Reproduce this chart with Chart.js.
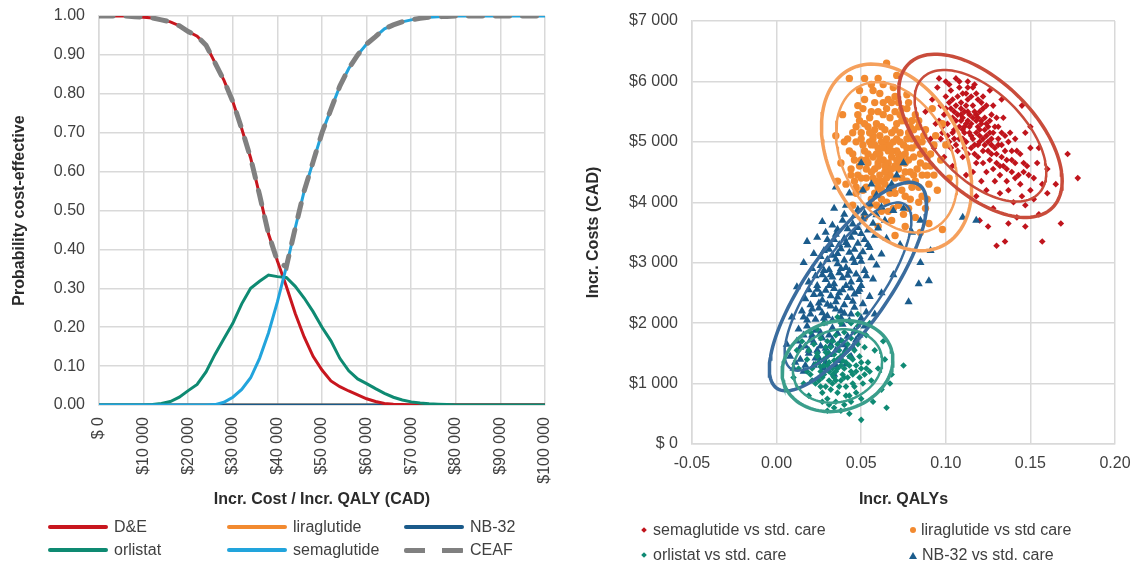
<!DOCTYPE html>
<html>
<head>
<meta charset="utf-8">
<title>CEAC and cost-effectiveness plane</title>
<script src="https://cdn.jsdelivr.net/npm/chart.js@4.4.1/dist/chart.umd.min.js"></script>
<style>
  html, body { margin: 0; padding: 0; background: #fff; }
  body { position: relative; width: 1134px; height: 564px; overflow: hidden;
         font-family: "Liberation Sans", Arial, sans-serif; color: #404040; }
  .box { position: absolute; top: 0; height: 520px; }
  #ceacBox { left: 0; width: 564px; }
  #planeBox { left: 580px; width: 554px; }
  .item { position: absolute; height: 20px; display: flex; align-items: center;
          font-size: 16px; white-space: nowrap; }
  .swatch { width: 60px; height: 4px; margin-right: 6px; border-radius: 2px; }
</style>
</head>
<body>
<div class="box" id="ceacBox"><canvas id="ceac"></canvas></div>
<div class="box" id="planeBox"><canvas id="plane"></canvas></div>
<div id="ceacLegend"></div>
<div id="planeLegend"></div>
<script>
// willingness-to-pay thresholds (CAD / QALY)
const wtp = [0, 2000, 4000, 6000, 8000, 10000, 12000, 14000, 16000, 18000,
  20000, 22000, 24000, 26000, 28000, 30000, 32000, 34000, 36000, 38000,
  40000, 42000, 44000, 46000, 48000, 50000, 52000, 54000, 56000, 58000,
  60000, 62000, 64000, 66000, 68000, 70000, 72000, 74000, 76000, 78000,
  80000, 82000, 84000, 86000, 88000, 90000, 92000, 94000, 96000, 98000, 100000];

const probDE = [1, 1, 1, 1, 0.998, 0.997, 0.995, 0.99, 0.985, 0.975,
  0.96, 0.948, 0.925, 0.88, 0.835, 0.78, 0.71, 0.635, 0.54, 0.44,
  0.37, 0.305, 0.235, 0.175, 0.125, 0.09, 0.062, 0.047, 0.036, 0.026,
  0.016, 0.009, 0.004, 0.002, 0.001, 0, 0, 0, 0, 0,
  0, 0, 0, 0, 0, 0, 0, 0, 0, 0, 0];
const probLira = [0, 0, 0, 0, 0, 0, 0, 0, 0, 0, 0, 0, 0, 0, 0, 0, 0, 0, 0, 0,
  0, 0, 0, 0, 0, 0, 0, 0, 0, 0, 0, 0, 0, 0, 0, 0, 0, 0, 0, 0,
  0, 0, 0, 0, 0, 0, 0, 0, 0, 0, 0];
const probNB32 = [0, 0, 0, 0, 0, 0, 0, 0, 0, 0, 0, 0, 0, 0, 0, 0, 0, 0, 0, 0,
  0, 0, 0, 0, 0, 0, 0, 0, 0, 0, 0, 0, 0, 0, 0, 0, 0, 0, 0, 0,
  0, 0, 0, 0, 0, 0, 0, 0, 0, 0, 0];
const probOrlistat = [0, 0, 0, 0, 0, 0, 0.001, 0.004, 0.009, 0.02,
  0.037, 0.053, 0.085, 0.13, 0.17, 0.21, 0.26, 0.3, 0.318, 0.334,
  0.33, 0.328, 0.305, 0.275, 0.24, 0.2, 0.165, 0.12, 0.088, 0.067,
  0.055, 0.042, 0.03, 0.02, 0.013, 0.008, 0.005, 0.003, 0.002, 0.001,
  0, 0, 0, 0, 0, 0, 0, 0, 0, 0, 0];
const probSema = [0, 0, 0, 0, 0, 0, 0, 0, 0, 0,
  0, 0, 0, 0.001, 0.007, 0.02, 0.04, 0.07, 0.12, 0.185,
  0.265, 0.355, 0.455, 0.55, 0.625, 0.7, 0.76, 0.82, 0.865, 0.9,
  0.928, 0.947, 0.967, 0.977, 0.985, 0.99, 0.994, 0.997, 0.998, 0.999,
  1, 1, 1, 1, 1, 1, 1, 1, 1, 1, 1];
const probCEAF = [1, 1, 1, 1, 0.998, 0.997, 0.995, 0.99, 0.985, 0.975,
  0.96, 0.948, 0.925, 0.88, 0.835, 0.78, 0.71, 0.635, 0.54, 0.44,
  0.37, 0.355, 0.455, 0.55, 0.625, 0.7, 0.76, 0.82, 0.865, 0.9,
  0.928, 0.947, 0.967, 0.977, 0.985, 0.99, 0.994, 0.997, 0.998, 0.999,
  1, 1, 1, 1, 1, 1, 1, 1, 1, 1, 1];

const ceacNames = ["D&E", "liraglutide", "NB-32", "orlistat", "semaglutide", "CEAF"];
const ceacColours = ["#C8161E", "#F28A30", "#1A5A8A", "#0E8A72", "#22A4DC", "#808080"];
const ceacOrder = [3, 5, 4, 2, 1, 0];

// PSA scatter (incr. QALYs, incr. costs CAD)
const semaPoints = [
  [0.110,5400],[0.115,5300],[0.105,5500],[0.120,5200],[0.112,5600],[0.118,5450],[0.108,5250],[0.124,5100],[0.102,5650],[0.116,5050],
  [0.121,5350],[0.111,5150],[0.127,4950],[0.106,5350],[0.113,5700],[0.119,4950],[0.099,5450],[0.125,5250],[0.109,5550],[0.130,4800],
  [0.117,5500],[0.104,5150],[0.122,4850],[0.114,5450],[0.128,5150],[0.101,5300],[0.133,4950],[0.107,5750],[0.120,5000],[0.112,5000],
  [0.126,4700],[0.118,5150],[0.103,5850],[0.131,5050],[0.115,4900],[0.108,5050],[0.123,5400],[0.136,4700],[0.110,5800],[0.097,5600],
  [0.107,5450],[0.113,5350],[0.119,5250],[0.111,5250],[0.116,5600],[0.122,5550],[0.104,5400],[0.109,5650],[0.114,5150],[0.120,5100],
  [0.125,5000],[0.129,4900],[0.123,4950],[0.117,4800],[0.111,4900],[0.106,4950],[0.101,5100],[0.098,5250],[0.103,5550],[0.108,5900],
  [0.115,5750],[0.121,5650],[0.127,5450],[0.131,5250],[0.135,5100],[0.139,4850],[0.134,4600],[0.128,4550],[0.122,4650],[0.116,4500],
  [0.113,5500],[0.118,5350],[0.124,5300],[0.110,5050],[0.105,5200],[0.100,5750],[0.096,5350],[0.130,5400],[0.126,5150],[0.119,5700],
  [0.112,5800],[0.117,5950],[0.102,5950],[0.133,4750],[0.141,4650],[0.143,4450],[0.136,4350],[0.124,4200],[0.150,4200],[0.145,4100],
  [0.100,5550],[0.104,5700],[0.109,5350],[0.114,5250],[0.119,5400],[0.123,5200],[0.127,5050],[0.131,4950],[0.135,4850],[0.139,4700],
  [0.106,5600],[0.111,5500],[0.116,5400],[0.121,5300],[0.126,5350],[0.129,5250],[0.124,5600],[0.118,5800],[0.113,5900],[0.108,6000],
  [0.098,5150],[0.102,5000],[0.107,4850],[0.113,4800],[0.119,4750],[0.125,4850],[0.130,4650],[0.136,4550],[0.141,4400],[0.146,4500],
  [0.133,5150],[0.137,5000],[0.141,5050],[0.144,4800],[0.148,4600],[0.152,4400],[0.154,4650],[0.157,4300],[0.150,4900],[0.147,5150],
  [0.120,5500],[0.115,5100],[0.110,5200],[0.105,5050],[0.122,5050],[0.127,4800],[0.132,4600],[0.117,4950],[0.112,5300],[0.109,5450],
  [0.095,5900],[0.100,6000],[0.106,6050],[0.094,5300],[0.097,5050],[0.103,4900],[0.110,4750],[0.118,4650],[0.124,4500],[0.132,4450],
  [0.139,4500],[0.142,4850],[0.138,5150],[0.134,5400],[0.128,5600],[0.122,5750],[0.116,5900],[0.129,4350],[0.137,4200],[0.144,4300],
  [0.146,4650],[0.140,4000],[0.132,4150],[0.149,4450],[0.126,5850],[0.113,6000],[0.092,5700],[0.099,4750],[0.091,5050],[0.121,4350],
  [0.172,4800],[0.178,4400],[0.168,3650],[0.157,3350],[0.130,3280],[0.135,3350],[0.147,3600],[0.125,3600],[0.152,4050],[0.160,4550],
  [0.155,4900],[0.150,5250],[0.145,5600],[0.112,4450],[0.118,4100],[0.128,3900],[0.142,3750],[0.160,4150],[0.088,5500],[0.093,4900],
  [0.104,4600],[0.096,6050],[0.133,5700],[0.165,4300],[0.155,3800],[0.147,3950],[0.120,3700],[0.137,3650]
];
const liraPoints = [
  [0.066,4850],[0.060,4900],[0.072,4800],[0.063,4700],[0.069,5000],[0.057,4750],[0.075,4950],[0.061,5100],[0.070,4600],[0.064,5200],
  [0.055,5000],[0.078,4700],[0.067,4450],[0.058,4550],[0.073,5150],[0.052,4850],[0.080,4900],[0.062,4350],[0.071,5300],[0.059,5300],
  [0.076,4500],[0.054,4650],[0.068,4750],[0.065,4950],[0.074,4400],[0.061,4800],[0.083,5050],[0.050,5150],[0.069,4250],[0.057,5050],
  [0.079,5250],[0.063,5450],[0.085,4650],[0.053,4400],[0.072,4550],[0.060,4600],[0.067,5400],[0.077,5050],[0.056,4950],[0.064,4500],
  [0.081,4450],[0.071,4850],[0.058,5200],[0.066,4650],[0.074,5350],[0.049,4600],[0.087,4850],[0.062,5000],[0.070,4150],[0.055,5400],
  [0.063,4900],[0.068,4850],[0.059,4800],[0.065,5050],[0.071,5050],[0.076,4800],[0.060,4650],[0.066,4550],[0.073,4650],[0.062,5250],
  [0.068,5150],[0.057,5100],[0.054,4800],[0.051,4950],[0.078,5150],[0.081,4750],[0.083,4550],[0.077,4350],[0.070,4400],[0.064,4300],
  [0.057,4400],[0.053,4550],[0.050,4700],[0.047,5000],[0.049,5350],[0.054,5250],[0.060,5500],[0.065,5550],[0.070,5500],[0.076,5350],
  [0.081,5200],[0.086,5000],[0.089,4750],[0.086,4450],[0.080,4250],[0.074,4200],[0.067,4150],[0.060,4250],[0.053,4250],[0.061,4450],
  [0.056,5500],[0.072,5650],[0.084,5350],[0.078,3900],[0.066,3850],[0.059,3950],[0.069,5900],[0.063,5950],[0.089,4050],[0.093,4450],
  [0.046,4700],[0.048,4450],[0.050,5050],[0.052,5300],[0.055,5150],[0.058,4950],[0.061,4700],[0.064,4600],[0.067,4950],[0.070,5200],
  [0.073,5000],[0.076,4650],[0.079,4500],[0.082,4350],[0.085,4800],[0.087,5100],[0.084,5250],[0.080,5050],[0.077,4900],[0.074,4750],
  [0.071,4700],[0.068,4550],[0.065,4400],[0.062,4200],[0.059,4350],[0.056,4500],[0.053,4700],[0.050,4400],[0.047,4250],[0.044,4450],
  [0.043,4850],[0.045,5150],[0.048,5450],[0.052,5700],[0.057,5850],[0.063,5650],[0.068,5650],[0.073,5450],[0.077,5550],[0.080,5350],
  [0.083,4950],[0.088,4600],[0.091,4800],[0.089,4450],[0.084,4000],[0.076,4100],[0.069,3900],[0.062,4050],[0.056,4050],[0.094,5100],
  [0.045,4800],[0.047,5250],[0.046,4350],[0.051,5550],[0.058,5650],[0.066,5700],[0.074,5550],[0.082,5450],[0.088,5200],[0.091,4600],
  [0.090,4300],[0.086,4100],[0.079,4050],[0.072,3950],[0.065,4000],[0.058,4150],[0.051,4200],[0.044,4550],[0.042,5050],[0.048,5600],
  [0.061,5800],[0.070,5750],[0.078,5650],[0.084,4250],[0.093,4950],[0.062,3850],[0.055,3950],[0.075,3800],[0.068,3700],[0.082,3750],
  [0.065,6300],[0.052,6050],[0.043,6050],[0.060,6050],[0.077,5780],[0.035,5100],[0.040,5000],[0.038,4650],[0.041,4300],[0.047,4150],
  [0.098,3550],[0.088,3900],[0.097,4700],[0.095,4200],[0.100,4950],[0.076,3600],[0.070,3450],[0.060,3600],[0.085,3500],[0.049,5850],
  [0.056,5950],[0.071,6100],[0.092,5550],[0.098,5300],[0.039,5450],[0.036,4350],[0.045,3950],[0.052,3750],[0.090,3650],[0.102,4400]
];
const orliPoints = [
  [0.030,1300],[0.036,1250],[0.026,1200],[0.041,1350],[0.033,1150],[0.038,1450],[0.028,1400],[0.044,1200],[0.023,1320],[0.035,1050],
  [0.031,1500],[0.040,1100],[0.047,1300],[0.025,1050],[0.034,1380],[0.042,1550],[0.020,1150],[0.037,950],[0.029,1600],[0.049,1450],
  [0.045,1000],[0.032,900],[0.052,1150],[0.018,1400],[0.039,1700],[0.027,850],[0.054,1350],[0.043,800],[0.022,1650],[0.048,1650],
  [0.033,1250],[0.038,1300],[0.028,1300],[0.031,1200],[0.036,1400],[0.040,1250],[0.025,1350],[0.043,1450],[0.030,1450],[0.034,1100],
  [0.039,1150],[0.027,1100],[0.045,1150],[0.032,1600],[0.037,1550],[0.042,1650],[0.024,1500],[0.021,1250],[0.046,1550],[0.050,1250],
  [0.041,950],[0.036,850],[0.029,950],[0.023,1000],[0.051,1000],[0.047,850],[0.033,1700],[0.026,1750],[0.040,1850],[0.052,1600],
  [0.026,1280],[0.031,1350],[0.035,1200],[0.039,1380],[0.043,1300],[0.047,1200],[0.028,1150],[0.033,1000],[0.038,1050],[0.042,1100],
  [0.024,1450],[0.029,1520],[0.034,1480],[0.040,1500],[0.045,1400],[0.050,1350],[0.021,1050],[0.026,950],[0.031,1050],[0.046,950],
  [0.049,1100],[0.053,1250],[0.036,1650],[0.030,1700],[0.044,1750],[0.019,1550],[0.041,800],[0.035,700],[0.027,700],[0.048,1950],
  [0.018,1200],[0.055,1200],[0.044,700],[0.031,650],[0.038,2000],[0.020,1850],
  [0.016,1000],[0.035,1800],[0.056,1050],[0.030,750],[0.058,1550],[0.013,1250],[0.046,1850],[0.024,1900],[0.040,650],[0.060,1250],
  [0.050,750],[0.019,800],[0.062,900],[0.053,1800],[0.015,1700],[0.034,600],[0.044,2000],[0.028,2000],[0.057,700],[0.064,1400],
  [0.050,400],[0.065,600],[0.067,1000],[0.075,1300],[0.043,500],[0.038,550],[0.030,550],[0.063,1700],[0.012,1550],[0.010,1100],
  [0.055,2000],[0.048,2150],[0.036,2100],[0.068,1150]
];
const nb32Points = [
  [0.010,1250],[0.016,1200],[0.022,1300],[0.028,1250],[0.034,1150],
  [0.008,1450],[0.014,1400],[0.019,1500],[0.025,1420],[0.031,1480],[0.037,1380],[0.044,1450],
  [0.011,1350],[0.017,1300],[0.023,1420],[0.029,1350],[0.035,1300],[0.041,1320],
  [0.019,1550],[0.024,1550],[0.029,1580],[0.035,1550],[0.041,1560],
  [0.014,1600],[0.020,1720],[0.026,1620],[0.033,1720],[0.040,1640],[0.047,1720],
  [0.012,1700],[0.017,1620],[0.022,1680],[0.027,1750],[0.032,1640],[0.038,1700],[0.045,1600],
  [0.016,1800],[0.021,1800],[0.026,1840],[0.031,1800],[0.036,1830],[0.042,1780],[0.049,1800],
  [0.013,1900],[0.018,1950],[0.023,1880],[0.028,2000],[0.033,1920],[0.039,1980],[0.046,1870],[0.052,1950],
  [0.018,2050],[0.023,2060],[0.028,2080],[0.033,2050],[0.038,2090],[0.043,2040],[0.050,2080],
  [0.016,2100],[0.021,2230],[0.027,2170],[0.032,2280],[0.038,2200],[0.044,2150],
  [0.015,2200],[0.020,2150],[0.025,2250],[0.030,2120],[0.035,2230],[0.040,2160],[0.046,2260],[0.053,2180],
  [0.020,2300],[0.025,2330],[0.030,2310],[0.035,2350],[0.040,2300],[0.045,2360],[0.051,2320],
  [0.017,2400],[0.022,2470],[0.027,2380],[0.032,2450],[0.037,2500],[0.042,2420],[0.048,2520],[0.055,2440],
  [0.019,2550],[0.026,2480],[0.031,2620],[0.036,2430],[0.041,2620],[0.046,2480],
  [0.024,2560],[0.029,2540],[0.034,2570],[0.039,2550],[0.044,2580],[0.049,2560],
  [0.019,2680],[0.024,2620],[0.029,2720],[0.034,2650],[0.039,2750],[0.044,2680],[0.050,2620],[0.057,2730],
  [0.023,2780],[0.028,2870],[0.033,2760],[0.038,2900],[0.043,2860],[0.049,2720],
  [0.027,2800],[0.032,2800],[0.037,2830],[0.042,2790],[0.047,2810],[0.053,2780],
  [0.021,2900],[0.026,2950],[0.031,2880],[0.036,2980],[0.041,2920],[0.046,3000],[0.052,2870],[0.059,2960],
  [0.030,3050],[0.035,3060],[0.040,3040],[0.045,3070],[0.050,3020],[0.056,3080],
  [0.026,3100],[0.031,3220],[0.036,3150],[0.041,3330],[0.046,3220],[0.051,3180],
  [0.022,3150],[0.028,3200],[0.033,3120],[0.038,3230],[0.043,3170],[0.049,3100],[0.055,3250],[0.062,3140],
  [0.032,3300],[0.037,3300],[0.042,3290],[0.048,3320],[0.054,3300],
  [0.029,3500],[0.034,3380],[0.044,3420],[0.050,3480],
  [0.024,3420],[0.030,3380],[0.035,3470],[0.040,3400],[0.046,3500],[0.052,3380],[0.058,3450],[0.065,3400],
  [0.036,3550],[0.042,3560],[0.048,3580],[0.054,3540],[0.060,3570],
  [0.027,3680],[0.033,3620],[0.039,3700],[0.045,3640],[0.051,3720],[0.057,3650],[0.064,3700],
  [0.040,3800],[0.046,3780],[0.052,3820],[0.059,3790],
  [0.034,3900],[0.041,3950],[0.048,3880],[0.055,3970],[0.062,3920],[0.069,3860],
  [0.043,4150],[0.051,4200],[0.059,4120],[0.066,4220],
  [0.050,4650],[0.075,4650],[0.068,4300],[0.110,3750],[0.118,3700],[0.090,2700],[0.084,2650],[0.091,3200],[0.078,2350],[0.085,3000],
  [0.080,3500],[0.073,3300],[0.069,2800],[0.062,2500],[0.058,2150],[0.056,4300],[0.035,4250],[0.016,3000],[0.012,2600],[0.009,2100],
  [0.006,1650],[0.018,3350],[0.075,3900],[0.085,3700],[0.071,4450]
];

const planeNames = ["semaglutide vs std. care", "liraglutide vs std care", "orlistat vs std. care", "NB-32 vs std. care"];
const planeColours = ["#C0141C", "#F28A30", "#0F8A74", "#1B5C8C"];
const planeShapes = ["rectRot", "circle", "rectRot", "triangle"];
const planeSizes = [3.3, 3.7, 3.3, 4.7];
const planeOrder = [5, 4, 2, 3];

// confidence ellipses: centre and two conjugate half-axes, same series order
const ellCentre = [[0.1205, 5100], [0.0709, 4743], [0.036, 1290], [0.0422, 2605]];
const ellAxisA = [[0.0425, -1190], [0.0442, -375], [0.0327, 80], [0.0421, 1682]];
const ellAxisB = [[0.0229, 640], [-0.0039, 1498], [0.001, 750], [0.0197, -386]];
const ellColours = ["#C94C3B", "#F5A05C", "#3A9E8B", "#3A6C9E"];
const ellLevels = [1, 0.806];

Chart.defaults.font.family = '"Liberation Sans", Arial, sans-serif';
Chart.defaults.font.size = 16;
Chart.defaults.color = "#404040";

function money(v) {
  return v === 0 ? "$ 0" : "$" + (v / 1000) + " 000";
}

// fixed axis box, no extra label overflow padding
function fixBox(w, h) {
  return (s) => {
    if (w) s.width = w;
    if (h) s.height = h;
    s.paddingTop = 0;
    s.paddingBottom = 0;
    s.paddingLeft = 0;
    s.paddingRight = 0;
  };
}

const gridStyle = { color: "#d9d9d9", lineWidth: 1.5, drawTicks: false };
const titleFont = { size: 16, weight: "bold" };

// ---- left: acceptability curves ----
const ceacSeries = [probDE, probLira, probNB32, probOrlistat, probSema, probCEAF];

new Chart(document.getElementById("ceac"), {
  type: "line",
  data: {
    datasets: ceacSeries.map((s, i) => ({
      label: ceacNames[i],
      data: wtp.map((w, j) => ({ x: w, y: s[j] })),
      borderColor: ceacColours[i],
      borderWidth: i === 5 ? 5 : 3,
      borderDash: i === 5 ? [14, 13] : [],
      borderCapStyle: i === 5 ? "round" : "butt",
      pointRadius: 0,
      tension: 0,
      fill: false,
      order: ceacOrder[i],
    })),
  },
  options: {
    responsive: true,
    maintainAspectRatio: false,
    animation: false,
    layout: { padding: { top: 16, right: 19, left: 0, bottom: 0 } },
    plugins: { legend: { display: false }, tooltip: { enabled: false } },
    scales: {
      x: {
        type: "linear",
        min: 0,
        max: 100000,
        ticks: { stepSize: 10000, minRotation: 90, maxRotation: 90, padding: 12, callback: money },
        grid: gridStyle,
        border: { color: "#d9d9d9", width: 1.5 },
        title: { display: true, text: "Incr. Cost / Incr. QALY (CAD)", font: titleFont, color: "#2b2b2b", padding: { top: 0, bottom: 10.4 } },
        afterFit: fixBox(0, 115),
      },
      y: {
        min: 0,
        max: 1,
        ticks: { stepSize: 0.1, padding: 14, callback: (v) => v.toFixed(2) },
        grid: gridStyle,
        border: { color: "#d9d9d9", width: 1.5 },
        title: { display: true, text: "Probability cost-effective", font: titleFont, color: "#2b2b2b", padding: { top: 10.4, bottom: 0 } },
        afterFit: fixBox(99, 0),
      },
    },
  },
});

// ---- right: cost-effectiveness plane ----
function ellipse(i, k) {
  const c = ellCentre[i], a = ellAxisA[i], b = ellAxisB[i];
  const pts = [];
  for (let s = 0; s <= 120; s++) {
    const t = (s / 120) * 2 * Math.PI;
    pts.push({
      x: c[0] + k * (a[0] * Math.cos(t) + b[0] * Math.sin(t)),
      y: c[1] + k * (a[1] * Math.cos(t) + b[1] * Math.sin(t)),
    });
  }
  return pts;
}

const planeSeries = [semaPoints, liraPoints, orliPoints, nb32Points];
const planeSets = planeSeries.map((pts, i) => ({
  label: planeNames[i],
  data: pts.map((p) => ({ x: p[0], y: p[1] })),
  pointStyle: planeShapes[i],
  pointRadius: planeSizes[i],
  pointBackgroundColor: planeColours[i],
  pointBorderColor: planeColours[i],
  pointBorderWidth: 0,
  showLine: false,
  order: planeOrder[i],
}));
ellCentre.forEach((c, i) => {
  ellLevels.forEach((k, j) => {
    planeSets.push({
      label: planeNames[i] + " ellipse " + (j + 1),
      data: ellipse(i, k),
      showLine: true,
      pointRadius: 0,
      borderColor: ellColours[i],
      borderWidth: j === 0 ? 3.5 : 2.5,
      tension: 0,
      fill: false,
      order: 1,
    });
  });
});

new Chart(document.getElementById("plane"), {
  type: "scatter",
  data: { datasets: planeSets },
  options: {
    responsive: true,
    maintainAspectRatio: false,
    animation: false,
    layout: { padding: { top: 21, right: 19, left: 0, bottom: 0 } },
    plugins: { legend: { display: false }, tooltip: { enabled: false } },
    scales: {
      x: {
        type: "linear",
        min: -0.05,
        max: 0.2,
        ticks: { stepSize: 0.05, padding: 10, callback: (v) => v.toFixed(2) },
        grid: gridStyle,
        border: { color: "#d9d9d9", width: 1.5 },
        title: { display: true, text: "Incr. QALYs", font: titleFont, color: "#2b2b2b", padding: { top: 0, bottom: 10.4 } },
        afterFit: fixBox(0, 76),
      },
      y: {
        min: 0,
        max: 7000,
        ticks: { stepSize: 1000, padding: 14, callback: money },
        grid: gridStyle,
        border: { color: "#d9d9d9", width: 1.5 },
        title: { display: true, text: "Incr. Costs (CAD)", font: titleFont, color: "#2b2b2b", padding: { top: 4.4, bottom: 0 } },
        afterFit: fixBox(112, 0),
      },
    },
  },
});

// ---- legends ----
const ceacLegend = document.getElementById("ceacLegend");
const ceacCols = [48, 227, 404];
const ceacRows = [527, 550];
ceacNames.forEach((name, i) => {
  const item = document.createElement("div");
  item.className = "item";
  item.style.left = ceacCols[i % 3] + "px";
  item.style.top = ceacRows[Math.floor(i / 3)] - 10 + "px";
  const sw = document.createElement("span");
  sw.className = "swatch";
  if (i === 5) {
    sw.style.height = "5px";
    sw.style.background = "repeating-linear-gradient(to right, " + ceacColours[i] + " 0 21px, transparent 21px 38px)";
  } else {
    sw.style.background = ceacColours[i];
  }
  item.appendChild(sw);
  item.appendChild(document.createTextNode(name));
  ceacLegend.appendChild(item);
});

const planeLegend = document.getElementById("planeLegend");
const planeCols = [640, 909];
const planeRows = [530, 555];
planeNames.forEach((name, i) => {
  const item = document.createElement("div");
  item.className = "item";
  item.style.left = planeCols[i % 2] + "px";
  item.style.top = planeRows[Math.floor(i / 2)] - 10 + "px";
  const mk = document.createElement("span");
  mk.style.display = "inline-block";
  mk.style.marginRight = "5px";
  if (planeShapes[i] === "triangle") {
    mk.style.width = "0";
    mk.style.height = "0";
    mk.style.borderLeft = "4px solid transparent";
    mk.style.borderRight = "4px solid transparent";
    mk.style.borderBottom = "7px solid " + planeColours[i];
  } else if (planeShapes[i] === "circle") {
    mk.style.width = "6px";
    mk.style.height = "6px";
    mk.style.borderRadius = "50%";
    mk.style.background = planeColours[i];
    mk.style.marginLeft = "1px";
  } else {
    mk.style.width = "4px";
    mk.style.height = "4px";
    mk.style.transform = "rotate(45deg)";
    mk.style.background = planeColours[i];
    mk.style.marginLeft = "2px";
    mk.style.marginRight = "7px";
  }
  item.appendChild(mk);
  item.appendChild(document.createTextNode(name));
  planeLegend.appendChild(item);
});
</script>
</body>
</html>
